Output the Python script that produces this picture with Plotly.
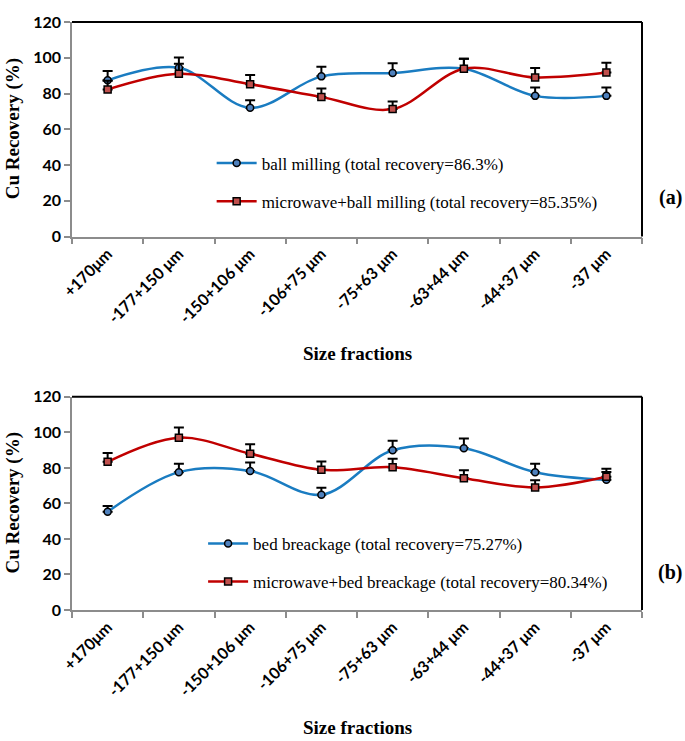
import plotly.graph_objects as go

# size fractions (categories)
sizes = ["+170μm", "-177+150 μm", "-150+106 μm", "-106+75 μm",
         "-75+63 μm", "-63+44 μm", "-44+37 μm", "-37 μm"]

# panel (a)
ball = [87.4, 94.4, 72.0, 89.6, 91.5, 93.9, 78.7, 78.7]
ball_err = [5.2, 5.7, 4.3, 5.4, 5.5, 5.6, 4.7, 4.7]
mw_ball = [82.3, 91.1, 85.2, 78.1, 71.3, 93.9, 89.0, 91.7]
mw_ball_err = [4.9, 5.5, 5.1, 4.7, 4.3, 5.6, 5.3, 5.5]

# panel (b)
bed = [55.3, 77.6, 78.3, 64.9, 89.9, 91.0, 77.6, 73.3]
bed_err = [3.3, 4.7, 4.7, 3.9, 5.4, 5.5, 4.7, 4.4]
mw_bed = [83.4, 97.0, 88.0, 78.9, 80.4, 74.2, 69.0, 75.0]
mw_bed_err = [5.0, 5.8, 5.3, 4.7, 4.8, 4.5, 4.1, 4.5]

BLUE = "#1a7cc1"
RED = "#c00000"
SERIF = "Liberation Serif"
SANS = "Lato"


def series(y, err, name, color, symbol, fill, xa, ya, legend, group):
    # one smoothed line with plus-only error bars
    return go.Scatter(
        x=sizes, y=y, name=name, mode="lines+markers",
        line=dict(color=color, width=2.5, shape="spline", smoothing=1),
        marker=dict(symbol=symbol, size=7, color=fill,
                    line=dict(color="black", width=1.5)),
        error_y=dict(type="data", array=err, symmetric=False,
                     arrayminus=[0] * len(err), color="black",
                     thickness=2, width=5),
        xaxis=xa, yaxis=ya, legend=legend, legendgroup=group,
    )


fig = go.Figure()

fig.add_trace(series(ball, ball_err, "ball milling (total recovery=86.3%)",
                     BLUE, "circle", "#4f81bd", "x", "y", "legend", "a1"))
fig.add_trace(series(mw_ball, mw_ball_err,
                     "microwave+ball milling (total recovery=85.35%)",
                     RED, "square", "#c0504d", "x", "y", "legend", "a2"))
fig.add_trace(series(bed, bed_err, "bed breackage (total recovery=75.27%)",
                     BLUE, "circle", "#4f81bd", "x2", "y2", "legend2", "b1"))
fig.add_trace(series(mw_bed, mw_bed_err,
                     "microwave+bed breackage (total recovery=80.34%)",
                     RED, "square", "#c0504d", "x2", "y2", "legend2", "b2"))

xaxis_style = dict(
    type="category", range=[-0.5, 7.5], tickson="boundaries",
    showline=True, linecolor="#8c8c8c", linewidth=1.5,
    ticks="outside", ticklen=6, tickcolor="#8c8c8c", tickwidth=1.5,
    tickangle=-45,
    tickfont=dict(family=SANS, size=16, color="black", weight="bold"),
    showgrid=False, zeroline=False,
)
yaxis_style = dict(
    range=[0, 120], dtick=20,
    showline=True, linecolor="#8c8c8c", linewidth=1.5,
    ticks="outside", ticklen=6, tickcolor="#8c8c8c", tickwidth=1.5,
    tickfont=dict(family=SANS, size=16, color="black", weight="bold"),
    showgrid=False, zeroline=False,
)

legend_style = dict(
    font=dict(family=SERIF, size=17, color="black"),
    bgcolor="rgba(0,0,0,0)", tracegroupgap=13, itemwidth=40,
    xanchor="left", yanchor="top",
)

fig.update_layout(
    width=685, height=741,
    margin=dict(l=72, r=43, t=12, b=131),
    plot_bgcolor="white", paper_bgcolor="white",
    xaxis=dict(xaxis_style, domain=[0, 1], anchor="y"),
    yaxis=dict(yaxis_style, domain=[0.635, 1], anchor="x"),
    xaxis2=dict(xaxis_style, domain=[0, 1], anchor="y2"),
    yaxis2=dict(yaxis_style, domain=[0, 0.3625], anchor="x2"),
    legend=dict(legend_style, x=0.245, y=0.79),
    legend2=dict(legend_style, x=0.23, y=0.143),
)

# black frame on top and right of each plot area
for xr, yr in [("x", "y"), ("x2", "y2")]:
    fig.add_shape(type="line", xref=xr + " domain", yref=yr + " domain",
                  x0=0, y0=1, x1=1, y1=1, line=dict(color="black", width=2))
    fig.add_shape(type="line", xref=xr + " domain", yref=yr + " domain",
                  x0=1, y0=0, x1=1, y1=1, line=dict(color="black", width=2))

# axis titles and panel tags
title_font = dict(family=SERIF, size=19, color="black")
for yr in ["y", "y2"]:
    fig.add_annotation(text="<b>Cu Recovery (%)</b>", textangle=-90,
                       xref="paper", yref=yr + " domain", x=(13 - 72) / 570,
                       y=0.5, xanchor="center", yanchor="middle",
                       showarrow=False, font=title_font)
for py in [349, 729]:
    fig.add_annotation(text="<b>Size fractions</b>", xref="paper", yref="paper",
                       x=0.5, y=(610 - py) / 598, xanchor="center",
                       yanchor="middle", showarrow=False, font=title_font)
for tag, py in [("(a)", 190), ("(b)", 572)]:
    fig.add_annotation(text="<b>" + tag + "</b>", xref="paper", yref="paper",
                       x=(670 - 72) / 570, y=(610 - py) / 598,
                       xanchor="center", yanchor="middle", showarrow=False,
                       font=dict(family=SERIF, size=20, color="black"))

# drop the default 8px page margin so the figure fills the window exactly
fig.write_html("out.html", config={"displayModeBar": False},
               post_script="document.body.style.margin = '0';")
